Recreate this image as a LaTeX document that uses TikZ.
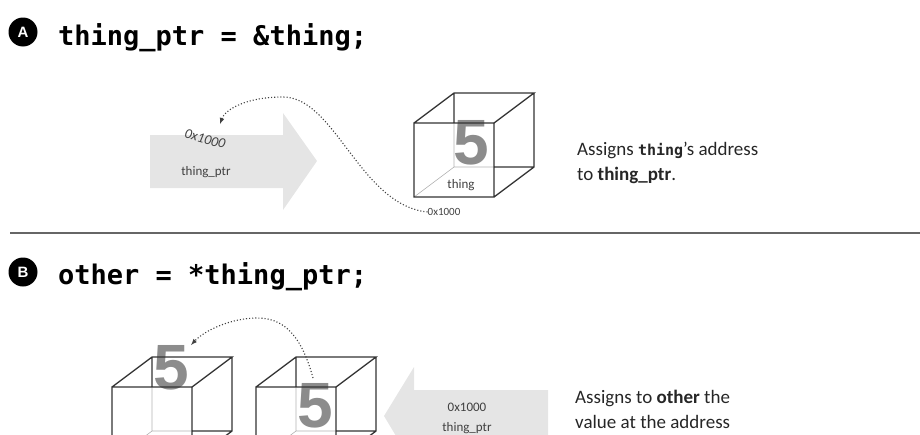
\documentclass[tikz,border=0pt]{standalone}
\usepackage{fontspec}
\setmainfont{Carlito}
\setmonofont{DejaVu Sans Mono}
\newfontfamily\digitfont{Liberation Sans}
\usetikzlibrary{arrows}

% wire cube, front top-left corner at (#1,#2)
\newcommand\drawcube[2]{%
\begin{scope}[shift={(#1,#2)}]
\draw[hidden] (40,0) -- (40,44) -- (0,74) (40,44) -- (80,44);
\draw[edge] (0,0) -- (80,0) -- (80,74) -- (0,74) -- cycle
      (0,0) -- (40,-30) -- (120,-30) -- (80,0)
      (120,-30) -- (120,44) -- (80,74)
      (40,-30) -- (40,0) (80,44) -- (120,44);
\end{scope}}

\begin{document}
\begin{tikzpicture}[x=1pt,y=-1pt,>=latex,
  badge/.style={circle,fill=black,text=white,inner sep=0pt,minimum size=29pt,font=\digitfont\bfseries\fontsize{15}{15}\selectfont},
  code/.style={anchor=base west,inner sep=0pt,font=\ttfamily\bfseries\fontsize{27}{27}\selectfont},
  note/.style={anchor=west,align=left,inner sep=0pt,text=black!85,font=\fontsize{19}{25}\selectfont},
  small/.style={inner sep=0pt,text=black!75,font=\fontsize{13}{13}\selectfont},
  digit/.style={inner sep=0pt,text=black!45,font=\digitfont\bfseries\fontsize{64}{64}\selectfont},
  bigarrow/.style={fill=black!10},
  edge/.style={draw=black!80,line width=1.3pt},
  hidden/.style={draw=black!30,line width=0.6pt},
  hop/.style={->,dotted,line width=1.1pt,black!75}]
\useasboundingbox (0,0) rectangle (920,434);
\clip (0,0) rectangle (920,434);

% A: taking the address
\node[badge] (badgeA) at (23,32) {A};
\node[code] (codeA) at (58,45) {thing\_ptr = \&thing;};
\fill[bigarrow] (150,135) -- (283,135) -- (283,113) -- (317,161) -- (283,210) -- (283,188) -- (150,188) -- cycle;
\node[small,rotate=-15,font=\itshape\fontsize{14}{14}\selectfont] (addrA) at (205,139) {0x1000};
\node[small] (ptrA) at (206,172) {thing\_ptr};
\node[digit] (fiveA) at (471,143) {5};
\drawcube{414}{123}
\node[small] (nameA) at (461,185) {thing};
\node[small,font=\fontsize{11}{11}\selectfont] (locA) at (444,212) {0x1000};
\coordinate (intoA) at (220,124);
\draw[hop] (locA.west) .. controls (360,205) and (335,97) .. (283,97)
  .. controls (245,97) and (225,110) .. (intoA);
\node[note] (noteA) at (577,163) {Assigns {\ttfamily\bfseries\fontsize{15}{15}\selectfont thing}'s address\\to \textbf{thing\_ptr}.};

\draw[black!60,line width=2.5pt] (10,233) -- (920,233);

% B: reading through the pointer
\node[badge] (badgeB) at (23,272) {B};
\node[code] (codeB) at (58,284) {other = *thing\_ptr;};
\node[digit] (fiveL) at (171,368) {5};
\drawcube{112}{387}
\node[digit] (fiveR) at (315,406) {5};
\drawcube{256}{387}
\fill[bigarrow] (548,390) -- (414,390) -- (414,367) -- (384,416) -- (414,466) -- (414,443) -- (548,443) -- cycle;
\node[small] (addrB) at (467,407) {0x1000};
\node[small] (ptrB) at (467,428) {thing\_ptr};
\coordinate (liftB) at (313,378);
\coordinate (dropB) at (191,345);
\draw[hop] (liftB) .. controls (300,330) and (280,318) .. (257,318)
  .. controls (232,318) and (205,330) .. (dropB);
\node[note] (noteB) at (575,409) {Assigns to \textbf{other} the\\value at the address};
\end{tikzpicture}
\end{document}
